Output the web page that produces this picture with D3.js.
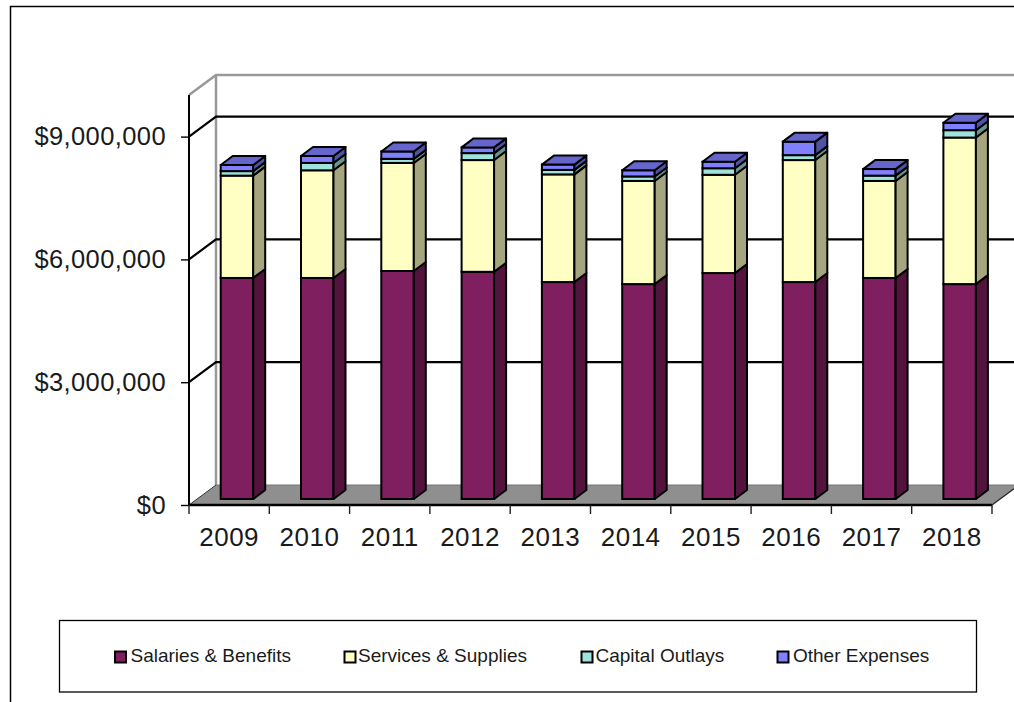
<!DOCTYPE html>
<html>
<head>
<meta charset="utf-8">
<script src="https://cdn.jsdelivr.net/npm/d3@7"></script>
<style>
body { margin: 0; background: #fff; }
svg { display: block; }
text { font-family: "Liberation Sans", Arial, sans-serif; fill: #1a1a1a; }
</style>
</head>
<body>
<div class="container"></div>
<script>
// values
var years = ["2009","2010","2011","2012","2013","2014","2015","2016","2017","2018"];
var salaries = [5400000,5400000,5570000,5550000,5300000,5250000,5520000,5300000,5400000,5250000];
var services = [2500000,2630000,2640000,2730000,2630000,2520000,2400000,2980000,2370000,3580000];
var capital  = [110000,180000,100000,170000,110000,110000,160000,120000,130000,180000];
var other    = [150000,170000,180000,140000,130000,150000,160000,330000,160000,180000];
var legendNames = ["Salaries & Benefits","Services & Supplies","Capital Outlays","Other Expenses"];
var yTicks = [0,3000000,6000000,9000000];

var seriesList = [salaries, services, capital, other];
var fronts = ["#7f1f5f","#ffffc4","#9fe4dc","#7f7fff"];
var tops   = ["#66194c","#cccc9d","#7fb6b0","#6565cc"];
var sides  = ["#52143d","#a5a57f","#67948f","#5252a5"];

var w = 1014, h = 702;
var stage = d3.select(".container").append("svg").attr("width",w).attr("height",h);

// chart outline, runs off the right and bottom of the shot
stage.append("path").attr("d","M10.5,702V6.5H1014").attr("fill","none").attr("stroke","#000").attr("stroke-width",1.5);

var y = d3.scaleLinear().domain([0,9000000]).range([505,136.6]);
var x = d3.scaleBand().domain(years).range([189,992]);
var dx = 27, dy = -20;    // wall depth
var yTop = 95;

// back wall
stage.append("path").attr("d","M189,"+yTop+"L216,75H1014M216,75V485").attr("fill","none").attr("stroke","#999").attr("stroke-width",2.5);

// floor
stage.append("path").attr("d",d3.line()([[189,505],[216,485],[1019,485],[992,505]])+"Z").attr("fill","#8f8f8f");
stage.append("path").attr("d","M216,485H1014").attr("stroke","#777").attr("stroke-width",1).attr("fill","none");
stage.append("path").attr("d","M189,505L216,485").attr("stroke","#333").attr("stroke-width",1);
stage.append("path").attr("d","M992,505L1014,488.7").attr("stroke","#222").attr("stroke-width",1.2);

// gridlines
yTicks.slice(1).forEach(function(t){
  stage.append("path")
    .attr("d","M189,"+y(t)+"L216,"+(y(t)+dy)+"H1014")
    .attr("fill","none").attr("stroke","#000").attr("stroke-width",2.2);
});

// stacked boxes
var barX = 31.7, barW = 32.5, barOff = 6, ddx = 12, ddy = -9;
var stroke = "#000";
years.forEach(function(yr,i){
  var x0 = x(yr) + barX, x1 = x0 + barW;
  var running = 0;
  seriesList.forEach(function(s,k){
    var yb = y(running) - barOff;
    running += s[i];
    var yt = y(running) - barOff;
    stage.append("rect").attr("x",x0).attr("y",yt).attr("width",barW).attr("height",yb-yt)
      .attr("fill",fronts[k]).attr("stroke",stroke).attr("stroke-width",2);
    stage.append("path").attr("d",d3.line()([[x1,yb],[x1+ddx,yb+ddy],[x1+ddx,yt+ddy],[x1,yt]])+"Z")
      .attr("fill",sides[k]).attr("stroke",stroke).attr("stroke-width",2).attr("stroke-linejoin","round");
    if (k == seriesList.length-1) {
      stage.append("path").attr("d",d3.line()([[x0,yt],[x0+ddx,yt+ddy],[x1+ddx,yt+ddy],[x1,yt]])+"Z")
        .attr("fill",tops[k]).attr("stroke",stroke).attr("stroke-width",2).attr("stroke-linejoin","round");
    }
  });
});

// axes, drawn after the bars like the original
var yAxis = d3.axisLeft(y)
  .tickValues(yTicks).tickSize(8).tickPadding(15)
  .tickFormat(function(d){ return "$" + d3.format(",")(d); });
var gy = stage.append("g").attr("transform","translate(189,0)").call(yAxis);
gy.select(".domain").remove();
gy.selectAll("line").attr("stroke","#000").attr("stroke-width",1.4);
gy.selectAll("text").attr("font-size",25.5).attr("letter-spacing",0.4).attr("fill","#1a1a1a");
stage.append("line").attr("x1",189).attr("x2",189).attr("y1",yTop).attr("y2",505).attr("stroke","#000").attr("stroke-width",2);

stage.append("line").attr("x1",189).attr("x2",992).attr("y1",505).attr("y2",505).attr("stroke","#000").attr("stroke-width",2.4);
x.domain().concat("end").forEach(function(d,i){
  var tx = 189 + i*x.step();
  stage.append("line").attr("x1",tx).attr("x2",tx).attr("y1",505).attr("y2",514).attr("stroke","#222").attr("stroke-width",1.4);
});
stage.selectAll(".year").data(years).enter().append("text").attr("class","year")
  .attr("x",function(d){ return x(d)+x.bandwidth()/2; }).attr("y",546)
  .attr("text-anchor","middle").attr("font-size",26).attr("letter-spacing",0.5).text(function(d){ return d; });

// legend
stage.append("rect").attr("x",59.5).attr("y",620.5).attr("width",917).attr("height",71.5)
  .attr("fill","#fff").attr("stroke","#000").attr("stroke-width",1.3);
var legendX = [115,344.5,581.5,777.5];
var legendTextX = [130.5,358,595.5,793];
legendNames.forEach(function(n,i){
  stage.append("rect").attr("x",legendX[i]).attr("y",651.5).attr("width",11).attr("height",11)
    .attr("fill",fronts[i]).attr("stroke","#000").attr("stroke-width",2);
  stage.append("text").attr("x",legendTextX[i]).attr("y",662).attr("font-size",19).text(n);
});
</script>
</body>
</html>
